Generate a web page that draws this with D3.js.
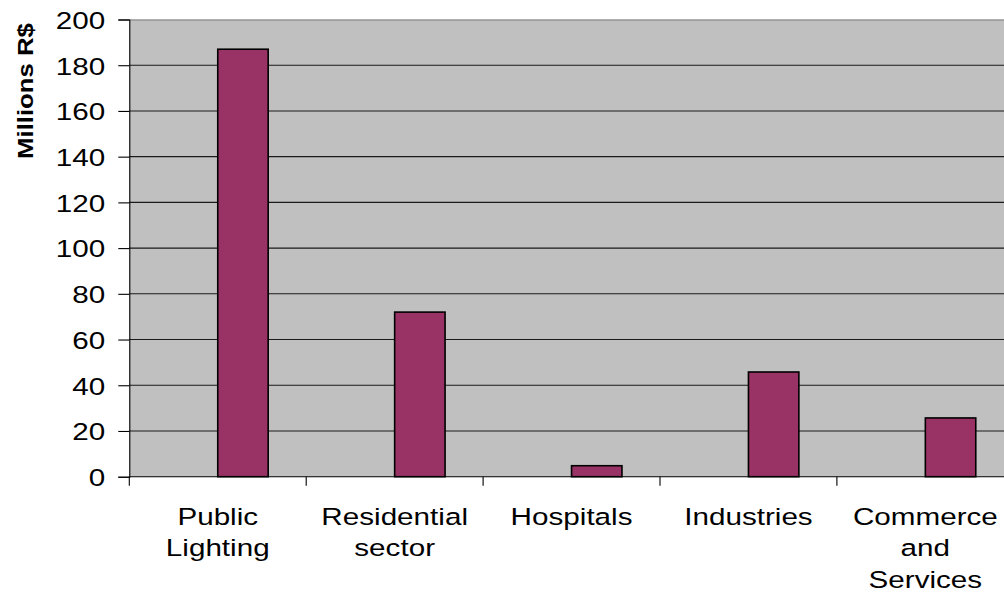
<!DOCTYPE html>
<html>
<head>
<meta charset="utf-8">
<script src="https://cdn.jsdelivr.net/npm/d3@7"></script>
<style>
  html, body { margin: 0; padding: 0; background: #ffffff; }
  svg { display: block; }
  text { font-family: "Liberation Sans", Arial, sans-serif; fill: #000; }
</style>
</head>
<body>
<svg id="chart" width="1004" height="594"></svg>
<script>
// Annual savings by consumer class (millions of R$)
const categories = [
  ["Public", "Lighting"],
  ["Residential", "sector"],
  ["Hospitals"],
  ["Industries"],
  ["Commerce", "and", "Services"]
];
const values = [187, 72, 4.8, 45.8, 25.7];
const yTicks = [0, 20, 40, 60, 80, 100, 120, 140, 160, 180, 200];
const yTitle = "Millions R$";

const svg = d3.select("#chart");
const plotLeft = 129.3, plotTop = 19.5, plotBottom = 476.7, band = 176.9;
const stretch = 1.21; // glyphs are drawn wider than their nominal size

const keys = categories.map(c => c.join(" "));
const x = d3.scaleBand().domain(keys).range([plotLeft, plotLeft + band * keys.length]).padding(0);
const y = d3.scaleLinear().domain([0, 200]).range([plotBottom, plotTop]);
const plotRight = x.range()[1];

// plot background
svg.append("rect")
  .attr("x", plotLeft).attr("y", plotTop)
  .attr("width", plotRight - plotLeft).attr("height", plotBottom - plotTop)
  .attr("fill", "#c0c0c0");

// top border of the plot area
svg.append("line")
  .attr("x1", plotLeft).attr("x2", plotRight)
  .attr("y1", plotTop + 0.5).attr("y2", plotTop + 0.5)
  .attr("stroke", "#808080").attr("stroke-width", 1.2);

// horizontal gridlines
svg.append("g").selectAll("line")
  .data(yTicks.filter(t => t > 0 && t < 200))
  .join("line")
  .attr("x1", plotLeft).attr("x2", plotRight)
  .attr("y1", d => y(d)).attr("y2", d => y(d))
  .attr("stroke", "#1a1a1a").attr("stroke-width", 1.1);

// bars sit in the right half of each category slot
const bw = x.bandwidth() * 0.285;
svg.append("g").selectAll("rect")
  .data(values)
  .join("rect")
  .attr("x", (d, i) => x(keys[i]) + x.bandwidth() / 2)
  .attr("y", d => y(d))
  .attr("width", bw)
  .attr("height", d => y(0) - y(d))
  .attr("fill", "#993366")
  .attr("stroke", "#000")
  .attr("stroke-width", 1.6);

// y axis
const yAxis = svg.append("g")
  .attr("transform", `translate(${plotLeft},0)`)
  .call(d3.axisLeft(y).tickValues(yTicks).tickSize(11).tickPadding(0).tickFormat(d3.format("d")));
yAxis.select(".domain").attr("stroke", "#000").attr("stroke-width", 1.1);
yAxis.selectAll(".tick line").attr("stroke", "#000").attr("stroke-width", 1.1);
yAxis.selectAll(".tick text").remove();
yAxis.selectAll(".tick").append("text")
  .attr("transform", `translate(-24,0) scale(${stretch},1)`)
  .attr("text-anchor", "end")
  .attr("dy", "0.36em")
  .style("font-size", "24.5px")
  .text(d => d);

// x axis with ticks at slot boundaries
const xAxisG = svg.append("g").attr("transform", `translate(0,${plotBottom})`);
xAxisG.append("line")
  .attr("x1", plotLeft).attr("x2", plotRight)
  .attr("stroke", "#000").attr("stroke-width", 1.1);
xAxisG.selectAll("line.tick")
  .data(keys)
  .join("line")
  .attr("class", "tick")
  .attr("x1", d => x(d)).attr("x2", d => x(d))
  .attr("y1", 0).attr("y2", 9)
  .attr("stroke", "#000").attr("stroke-width", 1.1);

// category labels
const labels = svg.append("g").selectAll("g")
  .data(categories)
  .join("g")
  .attr("transform", (d, i) => `translate(${x(keys[i]) + x.bandwidth() / 2},524.5) scale(${stretch},1)`);
labels.selectAll("text")
  .data(d => d)
  .join("text")
  .attr("y", (d, j) => j * 32)
  .attr("text-anchor", "middle")
  .style("font-size", "24.5px")
  .text(d => d);

// y axis title
svg.append("text")
  .attr("transform", `translate(32.5,91) rotate(-90) scale(1.17,1)`)
  .attr("text-anchor", "middle")
  .style("font-size", "22px")
  .style("font-weight", "bold")
  .text(yTitle);
</script>
</body>
</html>
